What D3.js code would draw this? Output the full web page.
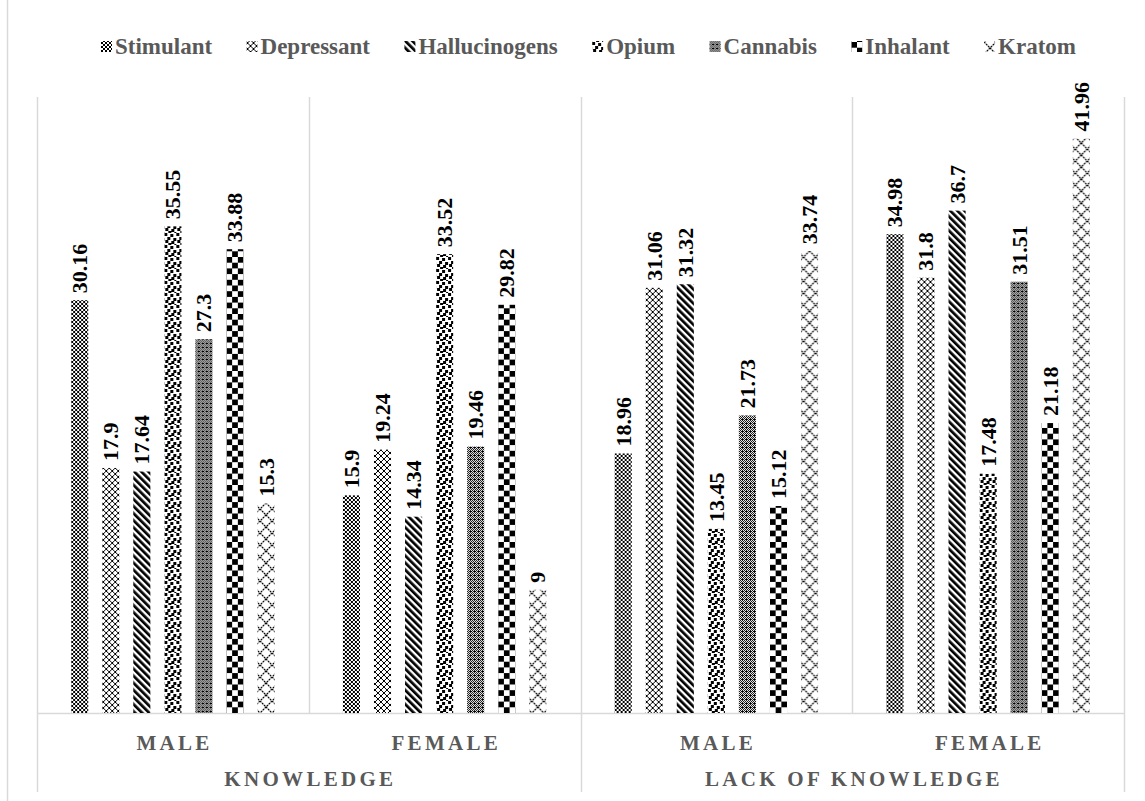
<!DOCTYPE html>
<html>
<head>
<meta charset="utf-8">
<script src="https://cdn.jsdelivr.net/npm/d3@7"></script>
<style>
  html, body { margin: 0; padding: 0; background: #fff; }
  svg { display: block; }
  text { font-family: "Liberation Serif", "Times New Roman", serif; font-weight: bold; }
</style>
</head>
<body>
<svg id="chart" width="1145" height="801"></svg>
<script>
// Substance types (one bar per type inside each gender group)
const series = ["Stimulant", "Depressant", "Hallucinogens", "Opium", "Cannabis", "Inhalant", "Kratom"];

// Category levels of the x axis
const outerCategories = ["KNOWLEDGE", "LACK OF KNOWLEDGE"];
const innerCategories = ["MALE", "FEMALE"];

// Percentages per group, in series order
const knowledgeMale       = [30.16, 17.9, 17.64, 35.55, 27.3, 33.88, 15.3];
const knowledgeFemale     = [15.9, 19.24, 14.34, 33.52, 19.46, 29.82, 9];
const lackKnowledgeMale   = [18.96, 31.06, 31.32, 13.45, 21.73, 15.12, 33.74];
const lackKnowledgeFemale = [34.98, 31.8, 36.7, 17.48, 31.51, 21.18, 41.96];

const yMax = 45;

const groups = [
  { id: "k-m", outer: outerCategories[0], inner: innerCategories[0], values: knowledgeMale },
  { id: "k-f", outer: outerCategories[0], inner: innerCategories[1], values: knowledgeFemale },
  { id: "l-m", outer: outerCategories[1], inner: innerCategories[0], values: lackKnowledgeMale },
  { id: "l-f", outer: outerCategories[1], inner: innerCategories[1], values: lackKnowledgeFemale }
];

const svg = d3.select("#chart");
const gridColor = "#d9d9d9";
const textGray = "#595959";

const plot = { left: 37, right: 1124, top: 97, bottom: 713 };

const x0 = d3.scaleBand().domain(groups.map(g => g.id)).range([plot.left, plot.right]);
const x1 = d3.scaleBand().domain(series).range([0, x0.bandwidth()]).paddingInner(0.45).paddingOuter(1.1);
const y = d3.scaleLinear().domain([0, yMax]).range([plot.bottom, plot.top]);

const defs = svg.append("defs");

function px(p, a, b, w, h) {
  p.append("rect").attr("x", a).attr("y", b).attr("width", w).attr("height", h).attr("fill", "#000");
}

// Fill patterns, one builder per substance
const patternBuilders = {
  Stimulant(p) {
    p.attr("width", 4).attr("height", 4);
    p.append("rect").attr("width", 4).attr("height", 4).attr("fill", "#fff");
    px(p, 0, 0, 2, 2); px(p, 2, 2, 2, 2);
  },
  Depressant(p) {
    p.attr("width", 6).attr("height", 6);
    p.append("rect").attr("width", 6).attr("height", 6).attr("fill", "#fff");
    px(p, 0, 0, 2, 2); px(p, 3, 3, 2, 2);
    [[2,2],[5,5],[2,5],[5,2]].forEach(([a,b]) => px(p, a, b, 1, 1));
  },
  Hallucinogens(p) {
    p.attr("width", 5).attr("height", 5).attr("patternTransform", p.attr("patternTransform") + " rotate(-45)");
    p.append("rect").attr("width", 5).attr("height", 5).attr("fill", "#fff");
    px(p, 0, 0, 2.7, 5);
  },
  Opium(p) {
    p.attr("width", 12).attr("height", 12);
    p.append("rect").attr("width", 12).attr("height", 12).attr("fill", "#fff");
    [[0,0],[6,1],[3,4],[9,5],[1,7],[7,8],[4,10],[10,11]].forEach(([a,b]) => px(p, a, b, 3, 3));
  },
  Cannabis(p) {
    p.attr("width", 4).attr("height", 4);
    p.append("rect").attr("width", 4).attr("height", 4).attr("fill", "#fff");
    ["1010", "0101", "1011", "0101"].forEach((r, j) => r.split("").forEach((c, i) => {
      if (c === "1") px(p, i, j, 1, 1);
    }));
  },
  Inhalant(p) {
    p.attr("width", 11.4).attr("height", 11.4);
    p.append("rect").attr("width", 11.4).attr("height", 11.4).attr("fill", "#fff");
    px(p, 0, 0, 5.7, 5.7); px(p, 5.7, 5.7, 5.7, 5.7);
  },
  Kratom(p) {
    p.attr("width", 12).attr("height", 12);
    p.append("rect").attr("width", 12).attr("height", 12).attr("fill", "#fff");
    p.append("path").attr("d", "M0,0L12,12M12,0L0,12").attr("stroke", "#000").attr("stroke-width", 1.2).attr("stroke-dasharray", "2,0.8");
  }
};

function makePattern(id, name, ox, oy) {
  const p = defs.append("pattern").attr("id", id).attr("patternUnits", "userSpaceOnUse")
    .attr("patternTransform", `translate(${ox},${oy})`);
  patternBuilders[name](p);
  return `url(#${id})`;
}

// Frame and category separator lines
svg.append("line").attr("x1", 7.5).attr("x2", 7.5).attr("y1", 0).attr("y2", 801)
  .attr("stroke", gridColor).attr("stroke-width", 1.5);

svg.append("line").attr("x1", plot.left).attr("x2", plot.right)
  .attr("y1", y(0) + 0.5).attr("y2", y(0) + 0.5).attr("stroke", gridColor).attr("stroke-width", 1.5);

groups.forEach(g => {
  const xs = Math.round(x0(g.id)) + 0.5;
  const full = g.inner === innerCategories[0];
  svg.append("line").attr("x1", xs).attr("x2", xs).attr("y1", plot.top).attr("y2", full ? 792 : y(0))
    .attr("stroke", gridColor).attr("stroke-width", 1.5);
});
svg.append("line").attr("x1", plot.right + 0.5).attr("x2", plot.right + 0.5).attr("y1", plot.top).attr("y2", 792)
  .attr("stroke", gridColor).attr("stroke-width", 1.5);

// Bars with rotated value labels
const barG = svg.append("g");
groups.forEach(g => {
  series.forEach((s, i) => {
    const v = g.values[i];
    const bx = x0(g.id) + x1(s);
    const bw = x1.bandwidth();
    const top = y(v);
    const ox = s === "Kratom" ? bx + bw / 2 - 6 : bx;
    const fill = makePattern(`pat-${g.id}-${i}`, s, ox, y(0));
    barG.append("rect").attr("x", bx).attr("y", top).attr("width", bw).attr("height", y(0) - top).attr("fill", fill);
    barG.append("text")
      .attr("transform", `translate(${bx + bw / 2},${top - 7}) rotate(-90)`)
      .attr("dy", "0.34em")
      .attr("font-size", 22)
      .attr("fill", "#000")
      .attr("text-anchor", "start")
      .text(v);
  });
});

// Category labels
const catSize = 21, catSpacing = 3.3;
groups.forEach(g => {
  svg.append("text")
    .attr("x", x0(g.id) + x0.bandwidth() / 2 + catSpacing / 2)
    .attr("y", 750)
    .attr("text-anchor", "middle")
    .attr("font-size", catSize)
    .attr("letter-spacing", catSpacing)
    .attr("fill", textGray)
    .text(g.inner);
});
outerCategories.forEach(oc => {
  const ids = groups.filter(g => g.outer === oc).map(g => g.id);
  const x = (x0(ids[0]) + x0(ids[ids.length - 1]) + x0.bandwidth()) / 2;
  svg.append("text")
    .attr("x", x + catSpacing / 2)
    .attr("y", 786)
    .attr("text-anchor", "middle")
    .attr("font-size", catSize)
    .attr("letter-spacing", catSpacing)
    .attr("fill", textGray)
    .text(oc);
});

// Legend
const legend = svg.append("g");
const legendStart = 101, legendEnd = 1076, marker = 11, markerGap = 3, legendBase = 54;
const items = series.map(s => {
  const g = legend.append("g");
  const t = g.append("text").attr("font-size", 23).attr("fill", textGray).attr("y", legendBase).text(s);
  return { s, g, t, w: t.node().getComputedTextLength() };
});
const totalW = d3.sum(items, d => d.w + marker + markerGap);
const gap = (legendEnd - legendStart - totalW) / (items.length - 1);
let cx = legendStart;
items.forEach((it, i) => {
  const fill = makePattern(`pat-leg-${i}`, it.s, cx, legendBase - 12);
  it.g.insert("rect", "text").attr("x", cx).attr("y", legendBase - 13).attr("width", marker).attr("height", marker).attr("fill", fill);
  it.t.attr("x", cx + marker + markerGap);
  cx += marker + markerGap + it.w + gap;
});
</script>
</body>
</html>
